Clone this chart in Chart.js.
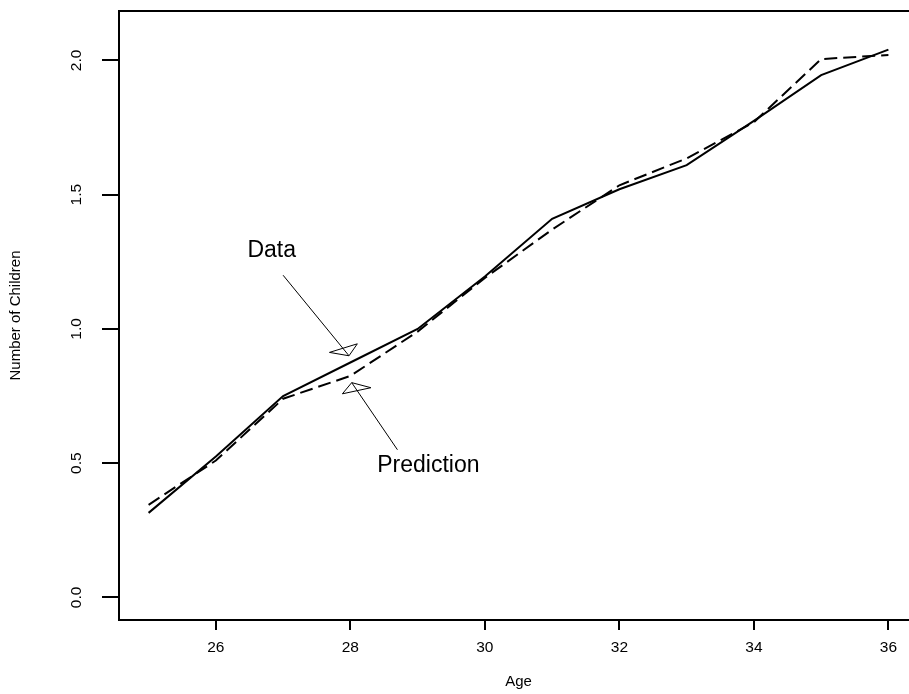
<!DOCTYPE html>
<html>
<head>
<meta charset="utf-8">
<script src="https://cdn.jsdelivr.net/npm/chart.js@4/dist/chart.umd.min.js"></script>
<style>
  html, body { margin: 0; padding: 0; background: #fff; overflow: hidden; width: 909px; height: 694px; }
  #wrap { width: 960px; height: 694px; }
  canvas { display: block; }
</style>
</head>
<body>
<div id="wrap"><canvas id="grafico" width="960" height="694"></canvas></div>
<script>
// ages and the two series
const idades = [25, 26, 27, 28, 29, 30, 31, 32, 33, 34, 35, 36];
const dadosReais = [0.315, 0.525, 0.75, 0.875, 1.0, 1.195, 1.41, 1.52, 1.61, 1.775, 1.945, 2.04];
const previsao = [0.345, 0.51, 0.74, 0.825, 0.99, 1.19, 1.37, 1.535, 1.635, 1.77, 2.005, 2.02];

const ticksX = [26, 28, 30, 32, 34, 36];
const ticksY = [0.0, 0.5, 1.0, 1.5, 2.0];

// labels with arrows, in data units: [text, textX, textY, fromX, fromY, toX, toY]
const anotacoes = [
    ["Data", 26.83, 1.29, 27.0, 1.20, 27.98, 0.90],
    ["Prediction", 29.16, 0.49, 28.70, 0.55, 28.02, 0.80]
];

const fonte = '"Liberation Sans", Arial, sans-serif';

function pontos(valores) {
    return idades.map((x, i) => ({ x: x, y: valores[i] }));
}

const desenhoExtra = {
    id: "desenhoExtra",
    afterDraw(chart) {
        const ctx = chart.ctx;
        const area = chart.chartArea;
        const sx = chart.scales.x;
        const sy = chart.scales.y;
        ctx.save();

        // top of the box; its right side lies past the window edge
        ctx.strokeStyle = "#000";
        ctx.lineWidth = 2;
        ctx.beginPath();
        ctx.moveTo(area.left - 1, area.top);
        ctx.lineTo(chart.width, area.top);
        ctx.stroke();

        ctx.fillStyle = "#000";
        // x tick labels
        ctx.font = "15.5px " + fonte;
        ctx.textAlign = "center";
        ctx.textBaseline = "middle";
        ticksX.forEach(t => {
            ctx.fillText(String(t), sx.getPixelForValue(t), 648);
        });
        // y tick labels, rotated like R
        ticksY.forEach(t => {
            ctx.save();
            ctx.translate(77, sy.getPixelForValue(t));
            ctx.rotate(-Math.PI / 2);
            ctx.fillText(t.toFixed(1), 0, 0);
            ctx.restore();
        });

        // axis titles
        ctx.font = "15px " + fonte;
        ctx.fillText("Age", (area.left + area.right) / 2, 682);
        ctx.save();
        ctx.translate(16, (area.top + area.bottom) / 2);
        ctx.rotate(-Math.PI / 2);
        ctx.fillText("Number of Children", 0, 0);
        ctx.restore();

        // annotations with open triangle heads
        ctx.lineWidth = 1;
        ctx.font = "23px " + fonte;
        anotacoes.forEach(a => {
            const tx = sx.getPixelForValue(a[1]);
            const ty = sy.getPixelForValue(a[2]);
            const x0 = sx.getPixelForValue(a[3]);
            const y0 = sy.getPixelForValue(a[4]);
            const x1 = sx.getPixelForValue(a[5]);
            const y1 = sy.getPixelForValue(a[6]);
            ctx.fillText(a[0], tx, ty);

            ctx.beginPath();
            ctx.moveTo(x0, y0);
            ctx.lineTo(x1, y1);
            ctx.stroke();

            const len = Math.hypot(x1 - x0, y1 - y0);
            const ux = (x1 - x0) / len, uy = (y1 - y0) / len;
            const nx = uy, ny = -ux;
            ctx.beginPath();
            ctx.moveTo(x1, y1);
            ctx.lineTo(x1 - 4 * ux + 14 * nx, y1 - 4 * uy + 14 * ny);
            ctx.lineTo(x1 - 15 * ux - 13 * nx, y1 - 15 * uy - 13 * ny);
            ctx.closePath();
            ctx.stroke();
        });

        ctx.restore();
    }
};

new Chart(document.getElementById("grafico"), {
    type: "line",
    data: {
        datasets: [
            {
                label: "Data",
                data: pontos(dadosReais),
                borderColor: "#000",
                borderWidth: 2,
                pointRadius: 0,
                tension: 0,
                fill: false
            },
            {
                label: "Prediction",
                data: pontos(previsao),
                borderColor: "#000",
                borderWidth: 2,
                borderDash: [13, 6],
                pointRadius: 0,
                tension: 0,
                fill: false
            }
        ]
    },
    options: {
        responsive: false,
        animation: false,
        devicePixelRatio: 1,
        layout: { padding: { top: 11, right: 42, bottom: 0, left: 0 } },
        plugins: {
            legend: { display: false },
            tooltip: { enabled: false }
        },
        scales: {
            x: {
                type: "linear",
                min: 24.56,
                max: 36.44,
                afterBuildTicks: s => { s.ticks = ticksX.map(v => ({ value: v })); },
                afterFit: s => { s.height = 74; },
                ticks: { display: false },
                grid: {
                    drawOnChartArea: false,
                    drawTicks: true,
                    tickLength: 10,
                    color: "#000",
                    lineWidth: 2
                },
                border: { display: true, color: "#000", width: 2 }
            },
            y: {
                type: "linear",
                min: -0.084,
                max: 2.184,
                afterBuildTicks: s => { s.ticks = ticksY.map(v => ({ value: v })); },
                afterFit: s => { s.width = 119; },
                ticks: { display: false },
                grid: {
                    drawOnChartArea: false,
                    drawTicks: true,
                    tickLength: 17,
                    color: "#000",
                    lineWidth: 2
                },
                border: { display: true, color: "#000", width: 2 }
            }
        }
    },
    plugins: [desenhoExtra]
});
</script>
</body>
</html>
